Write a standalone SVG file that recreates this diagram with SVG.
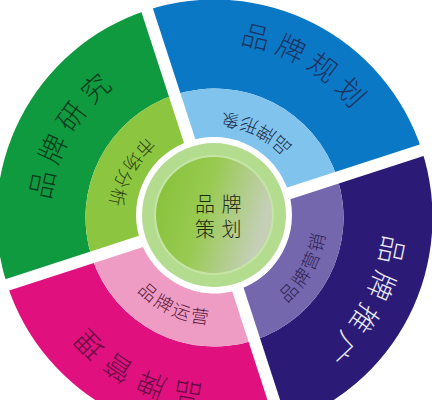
<svg xmlns="http://www.w3.org/2000/svg" xmlns:xlink="http://www.w3.org/1999/xlink" width="432" height="400" viewBox="0 0 432 400">
<style>
.t{font-family:"Noto Sans CJK SC","Noto Sans CJK JP",sans-serif;font-weight:300}
.o{font-size:28px;letter-spacing:7px}
.i{font-size:18px;letter-spacing:2.5px}
.sep{stroke:#ffffff;stroke-width:12;fill:none}
</style>
<defs>
<linearGradient id="core" x1="0" y1="0" x2="1" y2="0.3">
<stop offset="0" stop-color="#84c136"/>
<stop offset="0.5" stop-color="#99ca52"/>
<stop offset="1" stop-color="#c4cfb6"/>
</linearGradient>
<path id="pBlueO" d="M 154.65 53.05 A 175 175 0 0 1 386.84 187.11"/>
<path id="pPurO" d="M 372.12 153.82 A 170 170 0 0 1 249.84 383.79"/>
<path id="pMagO" d="M 281.49 371.57 A 168 168 0 0 1 51.14 256.72"/>
<path id="pGrnO" d="M 60.46 276.63 A 165 165 0 0 1 183.02 55.53"/>
<path id="pBlueI" d="M 316.38 192.10 A 105 105 0 0 0 171.79 121.58"/>
<path id="pPurI" d="M 234.91 327.62 A 112 112 0 0 0 319.41 178.28"/>
<path id="pPinkI" d="M 111.63 245.06 A 106.5 106.5 0 0 0 259.51 314.02"/>
<path id="pGrnI" d="M 193.65 114.08 A 105.5 105.5 0 0 0 116.27 255.99"/>
</defs>
<rect width="432" height="400" fill="#ffffff"/>
<g id="planning">
<path d="M 147.13 10.17 A 218 218 0 0 1 421.83 150.13 L 337.19 177.64 A 129 129 0 0 0 174.64 94.81 Z" fill="#0b78c6"/>
<path d="M 174.64 94.81 A 129 129 0 0 1 337.19 177.64 L 286.78 194.01 A 76 76 0 0 0 191.01 145.22 Z" fill="#80c4ee"/>
<text class="t o" fill="#1c3260"><textPath xlink:href="#pBlueO" startOffset="86.2">品牌规划</textPath></text>
<text class="t i" fill="#1e2c4a"><textPath xlink:href="#pBlueI" startOffset="51.9">品牌形象</textPath></text>
</g>
<g id="promotion">
<path d="M 421.83 150.13 A 218 218 0 0 1 281.87 424.83 L 254.36 340.19 A 129 129 0 0 0 337.19 177.64 Z" fill="#2b1b77"/>
<path d="M 337.19 177.64 A 129 129 0 0 1 254.36 340.19 L 237.99 289.78 A 76 76 0 0 0 286.78 194.01 Z" fill="#7567ad"/>
<text class="t o" fill="#ecebf6"><textPath xlink:href="#pPurO" startOffset="81.9">品牌推广</textPath></text>
<text class="t i" fill="#2b1f55"><textPath xlink:href="#pPurI" startOffset="58">品牌营销</textPath></text>
</g>
<g id="management">
<path d="M 281.87 424.83 A 218 218 0 0 1 7.17 284.87 L 91.81 257.36 A 129 129 0 0 0 254.36 340.19 Z" fill="#e0117e"/>
<path d="M 254.36 340.19 A 129 129 0 0 1 91.81 257.36 L 142.22 240.99 A 76 76 0 0 0 237.99 289.78 Z" fill="#ef9cc5"/>
<text class="t o" fill="#660a42"><textPath xlink:href="#pMagO" startOffset="80.1">品牌管理</textPath></text>
<text class="t i" fill="#5a1a3a"><textPath xlink:href="#pPinkI" startOffset="53.2">品牌运营</textPath></text>
</g>
<g id="research">
<path d="M 7.17 284.87 A 218 218 0 0 1 147.13 10.17 L 174.64 94.81 A 129 129 0 0 0 91.81 257.36 Z" fill="#109a3f"/>
<path d="M 91.81 257.36 A 129 129 0 0 1 174.64 94.81 L 191.01 145.22 A 76 76 0 0 0 142.22 240.99 Z" fill="#8cc540"/>
<text class="t o" fill="#0b3b1c"><textPath xlink:href="#pGrnO" startOffset="77.5">品牌研究</textPath></text>
<text class="t i" fill="#2c4010"><textPath xlink:href="#pGrnI" startOffset="52.3">市场分析</textPath></text>
</g>
<g id="connectors">
<line class="sep" x1="214.5" y1="217.5" x2="140.34" y2="-10.75"/>
<line class="sep" x1="214.5" y1="217.5" x2="442.75" y2="143.34"/>
<line class="sep" x1="214.5" y1="217.5" x2="288.66" y2="445.75"/>
<line class="sep" x1="214.5" y1="217.5" x2="-13.75" y2="291.66"/>
</g>
<g id="core-node">
<circle cx="214" cy="215" r="78" fill="#ffffff"/>
<circle cx="214" cy="215" r="72" fill="#b3dc8f"/>
<circle cx="214" cy="215" r="60" fill="#c6e4a6"/>
<circle cx="214" cy="215" r="58" fill="url(#core)"/>
<text class="t" x="195" y="212" font-size="20" letter-spacing="6.5" fill="#1f2a14">品牌</text>
<text class="t" x="195" y="237" font-size="20" letter-spacing="6.5" fill="#1f2a14">策划</text>
</g>
</svg>
